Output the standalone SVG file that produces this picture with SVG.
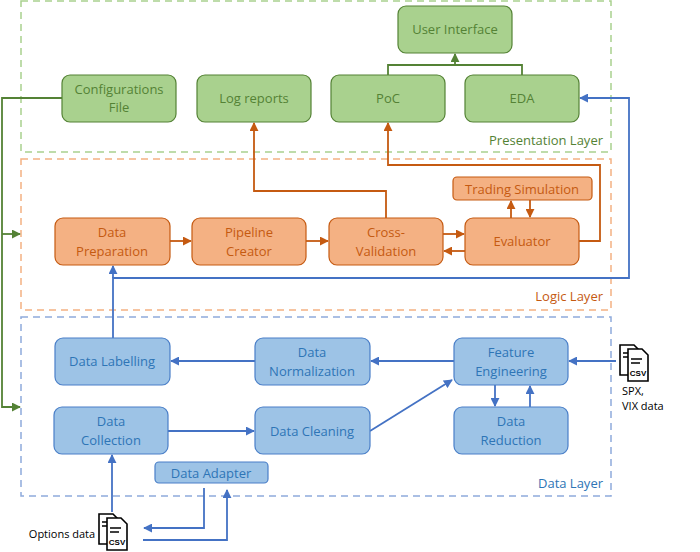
<svg xmlns="http://www.w3.org/2000/svg" width="700" height="552" viewBox="0 0 700 552">
<defs>
<style>
text{font-family:"Open Sans","Liberation Sans",sans-serif;font-size:13px;text-anchor:middle}
.g rect{fill:#a9d18e;stroke:#548235;stroke-width:1.2}
.g text{fill:#548235}
.o rect{fill:#f4b183;stroke:#c55a11;stroke-width:1.2}
.o text{fill:#c55a11}
.b rect{fill:#9dc3e6;stroke:#4a7fc8;stroke-width:1.2}
.b text{fill:#2e75b6}
.lay{fill:none;stroke-width:1.5;stroke-dasharray:7,5}
.cg{fill:none;stroke:#548235;stroke-width:1.8}
.co{fill:none;stroke:#c55a11;stroke-width:1.8}
.cb{fill:none;stroke:#4472c4;stroke-width:1.8}
.doc{fill:#fff;stroke:#000;stroke-width:1.6}
</style>
<marker id="ag" viewBox="0 0 10 10" refX="9" refY="5" markerWidth="5" markerHeight="5" orient="auto"><path d="M0,0L10,5L0,10z" fill="#548235"/></marker>
<marker id="ao" viewBox="0 0 10 10" refX="9" refY="5" markerWidth="5" markerHeight="5" orient="auto"><path d="M0,0L10,5L0,10z" fill="#c55a11"/></marker>
<marker id="ab" viewBox="0 0 10 10" refX="9" refY="5" markerWidth="5" markerHeight="5" orient="auto"><path d="M0,0L10,5L0,10z" fill="#4472c4"/></marker>
<g id="csv">
<path class="doc" d="M0,0H14L20,6V30H0Z"/>
<path d="M3,8H12M3,12H12" stroke="#000" stroke-width="1.5"/>
<path class="doc" d="M8,4H22L28,10V36H8Z"/>
<path d="M11,14H22M11,18H20" stroke="#000" stroke-width="1.5"/>
<text x="18" y="31" style="font-size:8px;font-weight:bold;fill:#000;font-family:'Liberation Sans',sans-serif">CSV</text>
</g>
</defs>
<rect width="700" height="552" fill="#fff"/>
<g id="layers">
<rect class="lay" x="21" y="1" width="590" height="151" stroke="#a9d18e"/>
<rect class="lay" x="21" y="159" width="590" height="151" stroke="#f4b183"/>
<rect class="lay" x="21" y="317" width="590" height="179" stroke="#8faadc"/>
<text x="603" y="145" style="text-anchor:end;fill:#548235">Presentation Layer</text>
<text x="603" y="301" style="text-anchor:end;fill:#c55a11">Logic Layer</text>
<text x="603" y="488" style="text-anchor:end;fill:#2e75b6">Data Layer</text>
</g>
<g id="connectors">
<path class="cg" d="M388,75V65H522V75M455,65V54" marker-end="url(#ag)"/>
<path class="cg" d="M62,98H2V407H20" marker-end="url(#ag)"/>
<path class="cg" d="M2,234H20" marker-end="url(#ag)"/>
<path class="co" d="M170,241H191" marker-end="url(#ao)"/>
<path class="co" d="M306,241H328" marker-end="url(#ao)"/>
<path class="co" d="M443,234H464" marker-end="url(#ao)"/>
<path class="co" d="M465,251H444" marker-end="url(#ao)"/>
<path class="co" d="M386,218V191H254V123" marker-end="url(#ao)"/>
<path class="co" d="M579,241H600V165H388V123" marker-end="url(#ao)"/>
<path class="co" d="M511,218V201" marker-end="url(#ao)"/>
<path class="co" d="M530,200V217" marker-end="url(#ao)"/>
<path class="cb" d="M113,338V278H629V98H580" marker-end="url(#ab)"/>
<path class="cb" d="M113,278V266" marker-end="url(#ab)"/>
<path class="cb" d="M255,361H171" marker-end="url(#ab)"/>
<path class="cb" d="M454,361H371" marker-end="url(#ab)"/>
<path class="cb" d="M616,361H569" marker-end="url(#ab)"/>
<path class="cb" d="M168,431H254" marker-end="url(#ab)"/>
<path class="cb" d="M370,431L452,380" marker-end="url(#ab)"/>
<path class="cb" d="M495,385V406" marker-end="url(#ab)"/>
<path class="cb" d="M530,407V386" marker-end="url(#ab)"/>
<path class="cb" d="M112,512V455" marker-end="url(#ab)"/>
<path class="cb" d="M204,488V528H144" marker-end="url(#ab)"/>
<path class="cb" d="M143,540H227V490" marker-end="url(#ab)"/>
</g>
<g id="user-interface" class="g"><rect x="398" y="6" width="114" height="47" rx="8"/><text x="455" y="34">User Interface</text></g>
<g id="config" class="g"><rect x="62" y="75" width="114" height="47" rx="8"/><text x="119" y="94">Configurations</text><text x="119" y="112">File</text></g>
<g id="log" class="g"><rect x="197" y="75" width="114" height="47" rx="8"/><text x="254" y="103">Log reports</text></g>
<g id="poc" class="g"><rect x="331" y="75" width="114" height="47" rx="8"/><text x="388" y="103">PoC</text></g>
<g id="eda" class="g"><rect x="465" y="75" width="114" height="47" rx="8"/><text x="522" y="103">EDA</text></g>
<g id="trading" class="o"><rect x="453" y="177" width="139" height="23" rx="4"/><text x="522" y="194">Trading Simulation</text></g>
<g id="dataprep" class="o"><rect x="55" y="218" width="115" height="47" rx="8"/><text x="112" y="237">Data</text><text x="112" y="256">Preparation</text></g>
<g id="pipeline" class="o"><rect x="192" y="218" width="114" height="47" rx="8"/><text x="249" y="237">Pipeline</text><text x="249" y="256">Creator</text></g>
<g id="crossval" class="o"><rect x="329" y="218" width="114" height="47" rx="8"/><text x="386" y="237">Cross-</text><text x="386" y="256">Validation</text></g>
<g id="evaluator" class="o"><rect x="465" y="218" width="114" height="47" rx="8"/><text x="522" y="246">Evaluator</text></g>
<g id="labelling" class="b"><rect x="55" y="338" width="115" height="47" rx="8"/><text x="112" y="366">Data Labelling</text></g>
<g id="normalization" class="b"><rect x="255" y="338" width="115" height="47" rx="8"/><text x="312" y="357">Data</text><text x="312" y="376">Normalization</text></g>
<g id="feature" class="b"><rect x="454" y="338" width="114" height="47" rx="8"/><text x="511" y="357">Feature</text><text x="511" y="376">Engineering</text></g>
<g id="collection" class="b"><rect x="54" y="407" width="114" height="47" rx="8"/><text x="111" y="426">Data</text><text x="111" y="445">Collection</text></g>
<g id="cleaning" class="b"><rect x="255" y="407" width="115" height="47" rx="8"/><text x="312" y="436">Data Cleaning</text></g>
<g id="reduction" class="b"><rect x="454" y="407" width="114" height="47" rx="8"/><text x="511" y="426">Data</text><text x="511" y="445">Reduction</text></g>
<g id="adapter" class="b"><rect x="155" y="462" width="113" height="21" rx="4"/><text x="211" y="478">Data Adapter</text></g>
<g id="options-data"><use href="#csv" x="99" y="514"/><text x="62" y="538" style="font-size:11px;fill:#000">Options data</text></g>
<g id="spx-data"><use href="#csv" x="620" y="345"/><text x="622" y="395" style="font-size:11px;fill:#000;text-anchor:start">SPX,</text><text x="622" y="410" style="font-size:11px;fill:#000;text-anchor:start">VIX data</text></g>
</svg>
